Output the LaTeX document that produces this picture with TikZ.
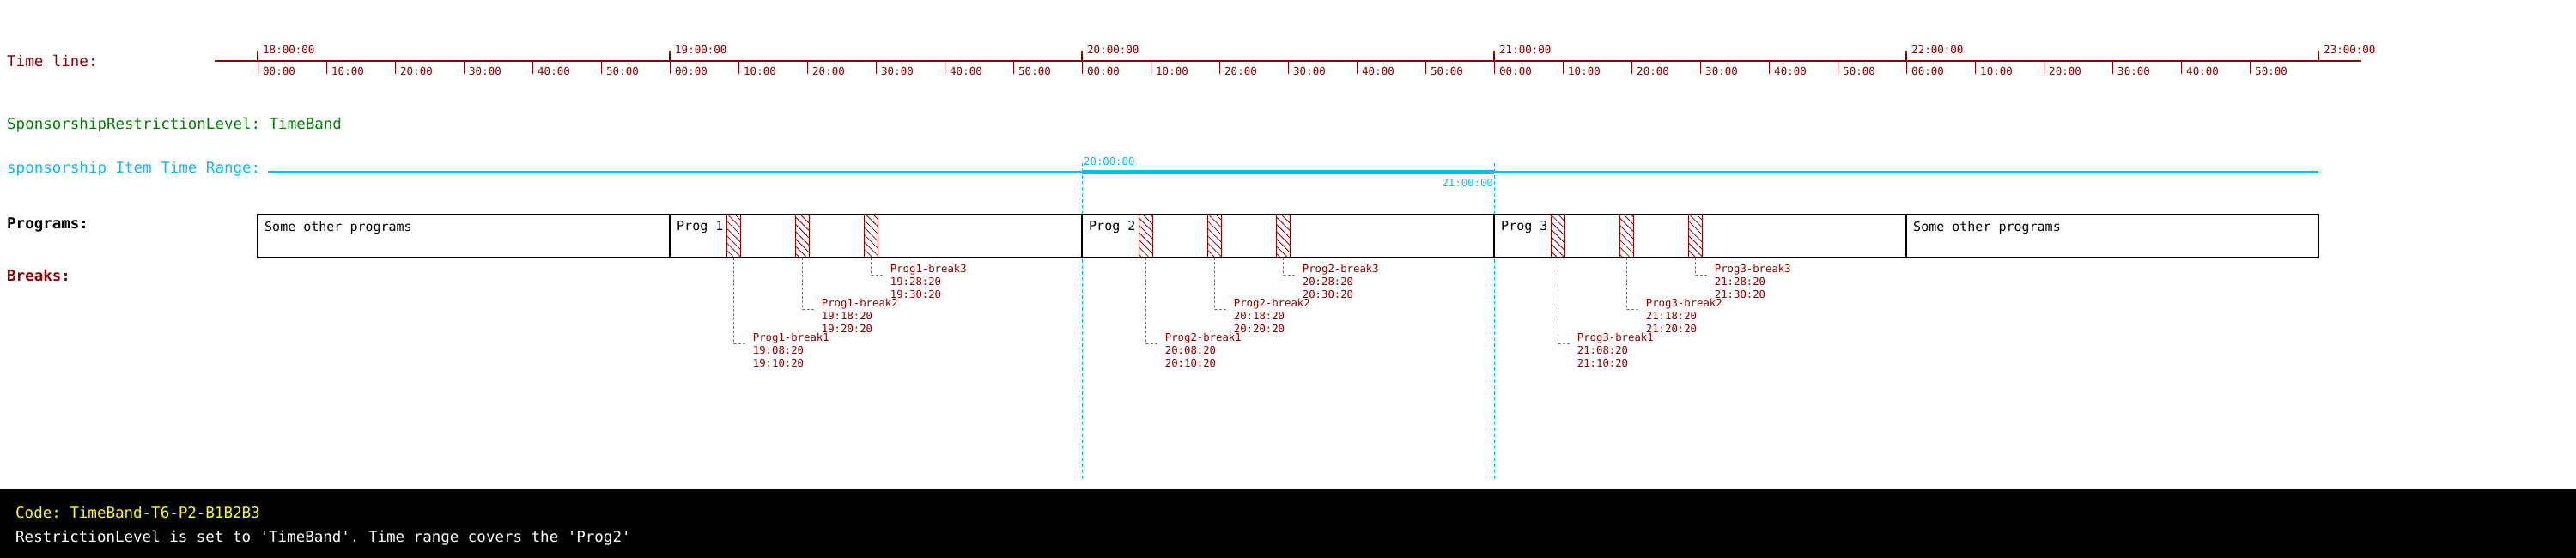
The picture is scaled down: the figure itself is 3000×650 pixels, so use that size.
\documentclass[tikz,border=0pt]{standalone}
\usepackage{fontspec}
\setmonofont{DejaVu Sans Mono}
\usetikzlibrary{patterns.meta}
\definecolor{tl}{HTML}{8B0000}
\definecolor{grn}{HTML}{008000}
\definecolor{sky}{HTML}{00BFFF}
\definecolor{lead}{HTML}{708090}
\definecolor{yel}{HTML}{FFFF00}
\begin{document}
\begin{tikzpicture}[x=1pt,y=-1pt,
  hdr/.style={anchor=west,inner sep=0pt,font=\ttfamily\fontsize{17.5}{20}\selectfont},
  tlab/.style={anchor=west,inner sep=0pt,text=tl,font=\ttfamily\fontsize{12.5}{15}\selectfont},
  rlab/.style={inner sep=0pt,text=sky,font=\ttfamily\fontsize{12.3}{15}\selectfont},
  cell/.style={draw=black,line width=2.5pt},
  progtxt/.style={anchor=west,inner sep=0pt,font=\ttfamily\fontsize{15}{18}\selectfont},
  brk/.style={draw=tl,line width=1pt,inner sep=0pt,outer sep=0pt,minimum width=16pt,minimum height=50pt,anchor=north west,
    pattern={Lines[angle=-45,distance=6pt,line width=0.8pt]},pattern color=tl},
  leader/.style={draw=lead,line width=1pt,dash pattern=on 3pt off 2pt},
  blab/.style={anchor=north west,inner sep=0pt,align=left,text=tl,font=\ttfamily\fontsize{12.3}{15}\selectfont},
  rangeguide/.style={draw=sky,line width=1pt,dash pattern=on 4pt off 3pt},
  majtick/.style={draw=tl,line width=2.2pt},
  mintick/.style={draw=tl,line width=1pt},
]
\useasboundingbox (0,0) rectangle (3000,650);
\fill[white] (0,0) rectangle (3000,650);

% ---- time line ----
\node[hdr,text=tl] (tllbl) at (8,71) {Time line:};
\draw[tl,line width=2.7pt] (250,71) -- (2750,71);
\foreach \h/\hh in {0/18,1/19,2/20,3/21,4/22}{
  \pgfmathsetmacro{\hx}{300+480*\h}
  \draw[majtick] (\hx,59) -- (\hx,71);
  \node[tlab] (maj\hh) at (\hx+6,58) {\hh:00:00};
  \foreach \m/\lab in {0/00,1/10,2/20,3/30,4/40,5/50}{
    \draw[mintick] (\hx+80*\m,71) -- (\hx+80*\m,86);
    \node[tlab] (min\hh\lab) at (\hx+80*\m+6,83) {\lab:00};
  }
}
\draw[majtick] (2700,59) -- (2700,71);
\node[tlab] (maj23) at (2706,58) {23:00:00};

% ---- restriction level ----
\node[hdr,text=grn] (level) at (8,146) {SponsorshipRestrictionLevel: TimeBand};

% ---- sponsorship item time range ----
\node[hdr,text=sky] (rangelbl) at (8,197) {sponsorship Item Time Range:};
\draw[sky,line width=1.5pt] (312,200) -- (2700,200);
\draw[sky,line width=5pt] (1260,200) -- (1740,200);
\node[rlab,anchor=west] (rstart) at (1262,188) {20:00:00};
\node[rlab,anchor=east] (rend) at (1739,213) {21:00:00};
\draw[rangeguide] (1260,190) -- (1260,560);
\draw[rangeguide] (1740,190) -- (1740,560);

% ---- programs ----
\node[hdr,font=\ttfamily\bfseries\fontsize{17.5}{20}\selectfont] (proglbl) at (8,262) {Programs:};
\node[hdr,text=tl,font=\ttfamily\bfseries\fontsize{17.5}{20}\selectfont] (brklbl) at (8,321) {Breaks:};

% breaks
\foreach \p in {1,2,3}{
  \pgfmathtruncatemacro{\hh}{18+\p}
  \pgfmathsetmacro{\H}{780+480*(\p-1)}
  \foreach \k/\ly/\sa/\sb in {1/400/08:20/10:20,2/360/18:20/20:20,3/320/28:20/30:20}{
    \pgfmathsetmacro{\bx}{\H+66.67+80*(\k-1)}
    \node[brk] (b\p\k) at (\bx,250) {};
    \coordinate (le\p\k) at (\bx+8+13.6,\ly);
    \draw[leader] (b\p\k.south) |- (le\p\k);
    \node[blab] (bl\p\k) at (\bx+8+22,\ly-12.4) {Prog\p-break\k\\\hh:\sa\\\hh:\sb};
  }
}

% program cells
\draw[cell] (300,250) rectangle (780,300);
\draw[cell] (780,250) rectangle (1260,300);
\draw[cell] (1260,250) rectangle (1740,300);
\draw[cell] (1740,250) rectangle (2220,300);
\draw[cell] (2220,250) rectangle (2700,300);
\node[progtxt] (p0) at (308,265) {Some other programs};
\node[progtxt] (p1) at (788,265) {Prog 1};
\node[progtxt] (p2) at (1268,265) {Prog 2};
\node[progtxt] (p3) at (1748,265) {Prog 3};
\node[progtxt] (p4) at (2228,265) {Some other programs};

% ---- bottom band ----
\fill[black] (0,570) rectangle (3000,650);
\node[hdr,text=yel] (code) at (18,597) {Code: TimeBand-T6-P2-B1B2B3};
\node[hdr,text=white] (desc) at (18,627) {RestrictionLevel is set to 'TimeBand'. Time range covers the 'Prog2'};
\end{tikzpicture}
\end{document}
